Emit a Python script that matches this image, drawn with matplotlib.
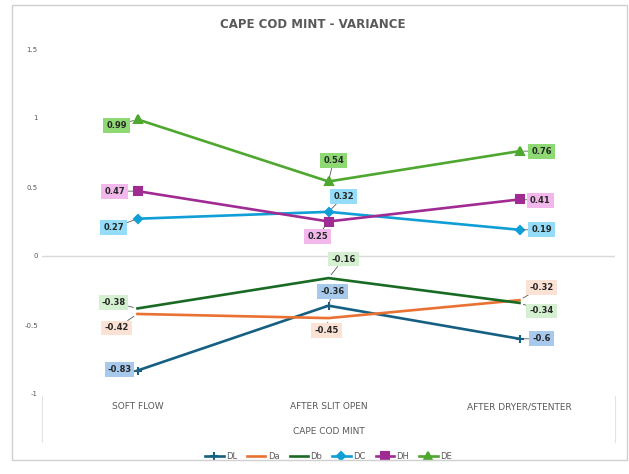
import numpy as np
import matplotlib.pyplot as plt
from matplotlib.patches import Rectangle

plt.rcParams['font.family'] = ['Liberation Sans Narrow', 'DejaVu Sans']

# datos
etapas = ['SOFT FLOW', 'AFTER SLIT OPEN', 'AFTER DRYER/STENTER']
series = ['DL', 'Da', 'Db', 'DC', 'DH', 'DE']
DL = [-0.83, -0.36, -0.6]
Da = [-0.42, -0.45, -0.32]
Db = [-0.38, -0.16, -0.34]
DC = [0.27, 0.32, 0.19]
DH = [0.47, 0.25, 0.41]
DE = [0.99, 0.54, 0.76]
yticks = [-1, -0.5, 0, 0.5, 1, 1.5]
ytick_labels = ['-1', '-0.5', '0', '0.5', '1', '1.5']

valores = [DL, Da, Db, DC, DH, DE]
colores = ['#156082', '#E97132', '#196B24', '#0F9ED5', '#A02B93', '#4EA72E']
fondos = ['#A6C9EC', '#FBE2D5', '#D5F0D0', '#94DCF8', '#F2B8EC', '#8ED973']
marcas = ['+', None, None, 'D', 's', '^']
tam = [6, 0, 0, 4, 6, 6]
# desplazamiento de cada etiqueta (pixeles)
desp = [
    [(-18, 1), (4, 14), (22, 0)],
    [(-21, -14), (-2, -12), (22, 13)],
    [(-24, 6), (15, 19), (22, -8)],
    [(-24, -9), (15, 15), (22, 0)],
    [(-23, 0), (-11, -15), (21, -1)],
    [(-21, -6), (5, 21), (22, 0)],
]

fig = plt.figure(figsize=(6.29, 4.74), dpi=100)
fig.patches.append(Rectangle((12/629, 14/474), 615/629, 455/474, transform=fig.transFigure,
                             fill=False, edgecolor='#D0D0D0', linewidth=1.0))
ax = fig.add_axes([42/629, 1 - 394/474, 573/629, 345/474])

x = np.arange(len(etapas))
for k in range(len(series)):
    ax.plot(x, valores[k], color=colores[k], linewidth=1.9, marker=marcas[k],
            markersize=tam[k], markeredgewidth=1.5, label=series[k], zorder=3)
    for i in range(len(x)):
        v = valores[k][i]
        ax.annotate(str(v), (x[i], v), xytext=desp[k][i], textcoords='offset pixels',
                    ha='center', va='center', fontsize=6, fontweight='bold', color='#262626',
                    bbox=dict(boxstyle='square,pad=0.35', facecolor=fondos[k], edgecolor='none'),
                    arrowprops=dict(arrowstyle='-', color='#595959', lw=0.6,
                                    shrinkA=0, shrinkB=3), zorder=4)

ax.set_xlim(-0.5, 2.5)
ax.set_ylim(-1, 1.5)
ax.axhline(0, color='#D9D9D9', linewidth=1.0, zorder=1)
ax.set_yticks(yticks)
ax.set_yticklabels(ytick_labels, fontsize=5, color='#595959')
ax.set_xticks(x)
ax.set_xticklabels(etapas, fontsize=6.5, color='#595959')
ax.tick_params(axis='x', length=0, pad=6)
ax.tick_params(axis='y', length=0, pad=3)
for s in ax.spines.values():
    s.set_visible(False)

# divisiones del eje de categorias
for xf in [0.0, 1.0]:
    ax.plot([xf, xf], [-0.005, -0.14], transform=ax.transAxes, color='#E3E3E3',
            linewidth=0.8, clip_on=False)
ax.text(0.5, -0.11, 'CAPE COD MINT', transform=ax.transAxes, ha='center', va='center',
        fontsize=6.5, color='#595959')

fig.text(313/629, 1 - 25/474, 'CAPE COD MINT - VARIANCE', ha='center', va='center',
         fontsize=8.5, fontweight='bold', color='#595959')

ax.legend(loc='center', bbox_to_anchor=(0.5, -0.18), ncol=6, frameon=False, fontsize=6,
          handlelength=2.2, columnspacing=1.2, handletextpad=0.3, labelcolor='#595959',
          borderaxespad=0)

fig.savefig('out.png', dpi=100)
